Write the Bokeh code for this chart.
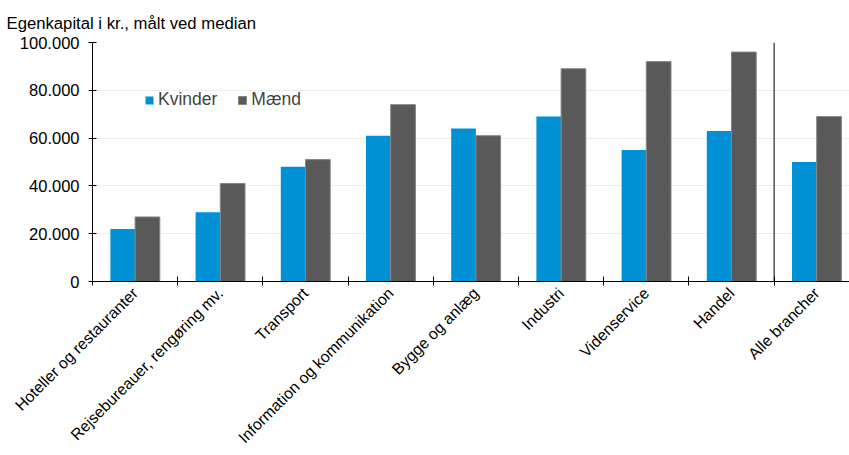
import numpy as np
from bokeh.plotting import figure
from bokeh.models import (ColumnDataSource, Range1d, FixedTicker, Span, Legend, LegendItem)
from bokeh.transform import dodge
from bokeh.embed import file_html
from bokeh.resources import INLINE

categories = ["Hoteller og restauranter", "Rejsebureauer, rengøring mv.", "Transport",
              "Information og kommunikation", "Bygge og anlæg", "Industri",
              "Videnservice", "Handel", "Alle brancher"]
kvinder = [22000, 29000, 48000, 61000, 64000, 69000, 55000, 63000, 50000]
maend = [27000, 41000, 51000, 74000, 61000, 89000, 92000, 96000, 69000]
y_ticks = [0, 20000, 40000, 60000, 80000, 100000]
y_tick_labels = ["0", "20.000", "40.000", "60.000", "80.000", "100.000"]
series_names = ["Kvinder", "Mænd"]
title_text = "Egenkapital i kr., målt ved median"

FONT = "Liberation Sans"
BLUE = "#0091D5"
GRAY = "#595959"

centers = np.arange(len(categories)) + 0.5
src = ColumnDataSource(dict(x=centers, k=kvinder, m=maend))

p = figure(width=849, height=455, output_backend="svg", toolbar_location=None,
           x_range=Range1d(0, 8.885), y_range=Range1d(0, 100000),
           min_border_left=92, min_border_right=0, min_border_top=42, min_border_bottom=0)
p.title.text = title_text
p.title.align = "left"
p.title.offset = -86
p.title.text_font = FONT
p.title.text_font_size = "16.7px"
p.title.text_font_style = "normal"
p.title.text_color = "black"
p.title.standoff = 19
p.outline_line_color = None
p.background_fill_color = "white"

bw = 0.29
r1 = p.vbar(x=dodge("x", -bw / 2, range=p.x_range), top="k", width=bw, source=src,
            fill_color=BLUE, line_color=None)
r2 = p.vbar(x=dodge("x", bw / 2, range=p.x_range), top="m", width=bw, source=src,
            fill_color=GRAY, line_color="#858585", line_width=1)

# x axis
xa = p.xaxis[0]
xa.ticker = FixedTicker(ticks=list(centers), minor_ticks=list(range(len(categories) + 1)))
xa.major_label_overrides = {float(c): lab for c, lab in zip(centers, categories)}
xa.major_tick_out = 0
xa.major_tick_in = 0
xa.minor_tick_out = 4
xa.minor_tick_in = 5
xa.minor_tick_line_color = "black"
xa.axis_line_color = "black"
xa.major_label_orientation = np.pi / 4
xa.major_label_text_font = FONT
xa.major_label_text_font_size = "15.8px"
xa.major_label_text_line_height = 1.0
xa.major_label_text_color = "black"
xa.major_label_standoff = 5

# y axis
ya = p.yaxis[0]
ya.ticker = FixedTicker(ticks=y_ticks)
ya.major_label_overrides = {t: lab for t, lab in zip(y_ticks, y_tick_labels)}
ya.minor_tick_line_color = None
ya.major_tick_out = 4
ya.major_tick_in = 4
ya.axis_line_color = "black"
ya.major_tick_line_color = "black"
ya.major_label_text_font = FONT
ya.major_label_text_font_size = "16.5px"
ya.major_label_text_color = "black"
ya.major_label_standoff = 9

p.xgrid.grid_line_color = None
p.ygrid.grid_line_color = "#ececec"
p.ygrid.ticker = FixedTicker(ticks=y_ticks)

p.add_layout(Span(location=8, dimension="height", line_color="black", line_width=1))

legend = Legend(items=[LegendItem(label=series_names[0], renderers=[r1]),
                       LegendItem(label=series_names[1], renderers=[r2])],
                orientation="horizontal", location=(52, 171))
legend.border_line_color = None
legend.background_fill_alpha = 0
legend.padding = 0
legend.margin = 0
legend.glyph_width = 10
legend.glyph_height = 10
legend.label_standoff = 4
legend.spacing = 20
legend.label_text_font = FONT
legend.label_text_font_size = "17.5px"
p.add_layout(legend)

open("out.html", "w").write(file_html(p, INLINE))
